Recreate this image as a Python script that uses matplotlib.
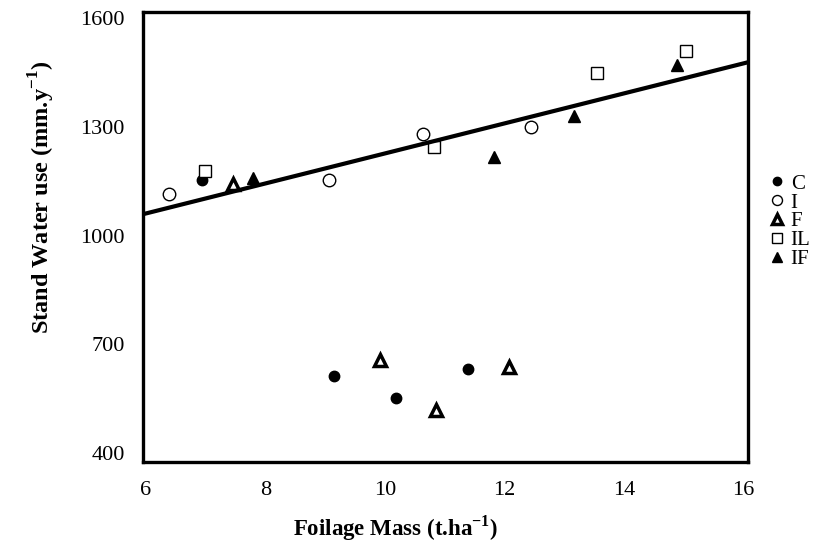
import numpy as np
from matplotlib import pyplot as plt

plt.rcParams.update({
    "font.family": 'Liberation Serif',
    "font.size": 16,
})

# foliage mass (t/ha) and stand water use (mm/y) per treatment
c_mass = [6.93, 9.14, 10.19, 11.39]
c_water = [1153, 613, 553, 631]
i_mass = [6.39, 9.07, 10.63, 12.44]
i_water = [1116, 1153, 1280, 1300]
f_mass = [7.45, 9.92, 10.85, 12.07]
f_water = [1142, 657, 519, 638]
il_mass = [6.99, 10.83, 13.56, 15.05]
il_water = [1178, 1245, 1450, 1509]
if_mass = [7.79, 11.83, 13.16, 14.89]
if_water = [1158, 1217, 1330, 1470]

# regression line
slope = 41.4
intercept = 812.6

fig = plt.figure(figsize=(8.24, 5.45), dpi=100)
ax = fig.add_axes([143/824, 1 - 462/545, 605/824, 450/545])

ax.plot(c_mass, c_water, 'o', ms=7.5, mfc='k', mec='k', ls=' ', label='C')
ax.plot(i_mass, i_water, 'o', ms=9, mfc='white', mec='k', mew=1.0, ls=' ', label='I')
ax.plot(f_mass, f_water, '^', ms=9, mfc='white', mec='k', mew=2.5, ls=' ', label='F')
ax.plot(il_mass, il_water, 's', ms=8.5, mfc='white', mec='k', mew=1.0, ls=' ', label='IL')
ax.plot(if_mass, if_water, '^', ms=9, mfc='k', mec='k', ls=' ', label='IF')

xs = np.array([5.95, 16.08])
ax.plot(xs, intercept + slope*xs, c='k', lw=3)

ax.set_xlim(5.95, 16.08)
ax.set_ylim(375, 1617)
ax.set_xticks([6, 8, 10, 12, 14, 16])
ax.set_yticks([400, 700, 1000, 1300, 1600])
ax.tick_params(axis='x', length=0, pad=14, labelsize=16)
ax.tick_params(axis='y', length=0, pad=13, labelsize=16)
for s in ax.spines.values():
    s.set_linewidth(2.4)

ax.set_xlabel(r'Foilage Mass (t.ha$^{\mathregular{-1}}$)', fontsize=16.5, fontweight='bold')
ax.set_ylabel(r'Stand Water use (mm.y$^{\mathregular{-1}}$)', fontsize=17.5, fontweight='bold')
ax.xaxis.set_label_coords(0.417, -0.114)
ax.yaxis.set_label_coords(-0.142, 0.589)

ax.legend(loc='center left', bbox_to_anchor=(1.0, 0.534), frameon=False,
          markerscale=0.8, handlelength=0.8, handletextpad=0.25,
          labelspacing=-0.03, fontsize=15, borderaxespad=0.6)

fig.savefig('out.png', dpi=100)
